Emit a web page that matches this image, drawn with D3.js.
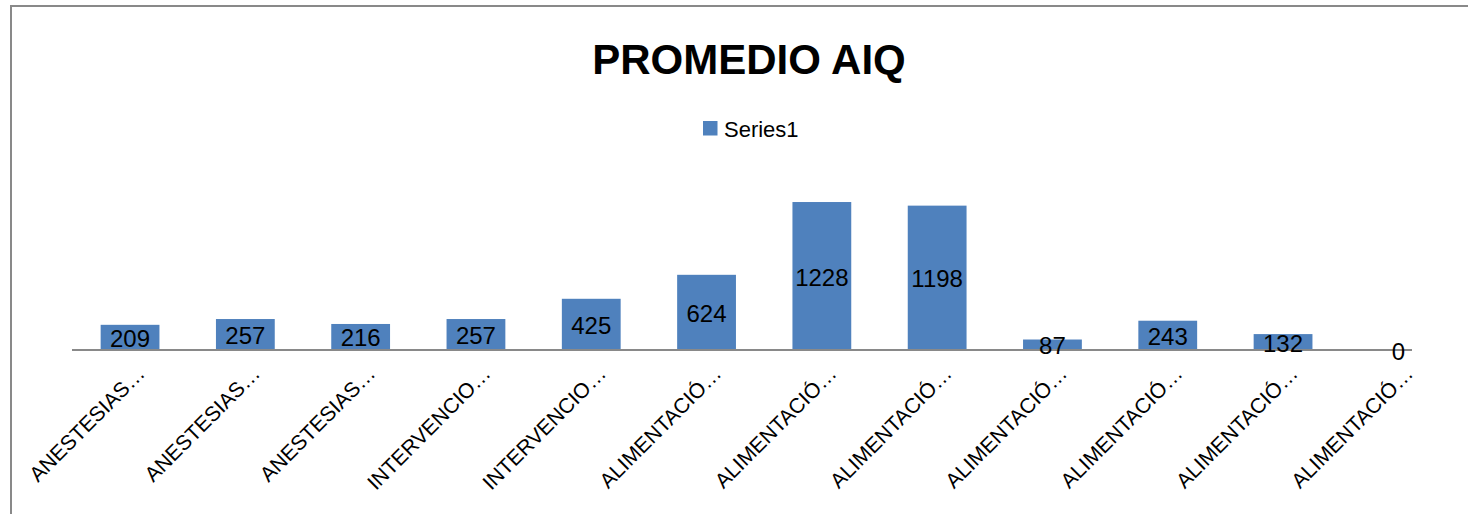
<!DOCTYPE html>
<html>
<head>
<meta charset="utf-8">
<script src="https://cdn.jsdelivr.net/npm/d3@7"></script>
<style>
  body { margin: 0; background: #fff; }
  text { font-family: "Liberation Sans", Arial, sans-serif; }
</style>
</head>
<body>
<svg id="chart"></svg>
<script>
// dati
var categories = ["ANESTESIAS…", "ANESTESIAS…", "ANESTESIAS…", "INTERVENCIO…", "INTERVENCIO…",
  "ALIMENTACIÓ…", "ALIMENTACIÓ…", "ALIMENTACIÓ…", "ALIMENTACIÓ…", "ALIMENTACIÓ…",
  "ALIMENTACIÓ…", "ALIMENTACIÓ…"];
var values = [209, 257, 216, 257, 425, 624, 1228, 1198, 87, 243, 132, 0];
var seriesName = "Series1";
var title = "PROMEDIO AIQ";

var width = 1468, height = 514;
var barColor = "#4F81BD";

var svg = d3.select("#chart").attr("width", width).attr("height", height);

// bordo dell'area grafico
svg.append("rect")
  .attr("x", 11).attr("y", 6)
  .attr("width", 1600).attr("height", 700)
  .attr("fill", "#fff")
  .attr("stroke", "#898989").attr("stroke-width", 2);

var idx = d3.range(values.length);

var x = d3.scaleBand()
  .domain(idx)
  .range([72.4, 1456])
  .paddingInner(0.49)
  .paddingOuter(0.245);

var y = d3.scaleLinear()
  .domain([0, 1400])
  .range([350, 181.3]);

// titolo
svg.append("text")
  .attr("x", 749).attr("y", 74)
  .attr("text-anchor", "middle")
  .style("font-size", "42px").style("font-weight", "bold")
  .text(title);

// legenda
svg.append("rect")
  .attr("x", 703).attr("y", 121)
  .attr("width", 14.5).attr("height", 14.5)
  .attr("fill", barColor);
svg.append("text")
  .attr("x", 724).attr("y", 137)
  .style("font-size", "22px")
  .text(seriesName);

var g = svg.append("g");

g.selectAll(".bar")
  .data(idx)
  .enter().append("rect")
  .attr("class", "bar")
  .attr("x", function(i) { return x(i); })
  .attr("y", function(i) { return y(values[i]); })
  .attr("width", x.bandwidth())
  .attr("height", function(i) { return y(0) - y(values[i]); })
  .attr("fill", barColor);

// asse x
g.append("line")
  .attr("x1", 72).attr("x2", 1412)
  .attr("y1", y(0)).attr("y2", y(0))
  .attr("stroke", "#898989").attr("stroke-width", 2);

// etichette dei valori
g.selectAll(".val")
  .data(idx)
  .enter().append("text")
  .attr("class", "val")
  .attr("x", function(i) { return x(i) + x.bandwidth() / 2; })
  .attr("y", function(i) { return y(values[i] / 2) + 1; })
  .attr("text-anchor", "middle")
  .attr("dominant-baseline", "central")
  .style("font-size", "24px")
  .text(function(i) { return values[i]; });

// etichette categorie ruotate
g.selectAll(".cat")
  .data(idx)
  .enter().append("text")
  .attr("class", "cat")
  .attr("text-anchor", "end")
  .attr("transform", function(i) {
    return "translate(" + (x(i) + x.bandwidth() / 2 + 16) + ",375) rotate(-45)";
  })
  .style("font-size", "21px")
  .text(function(i) { return categories[i]; });
</script>
</body>
</html>
